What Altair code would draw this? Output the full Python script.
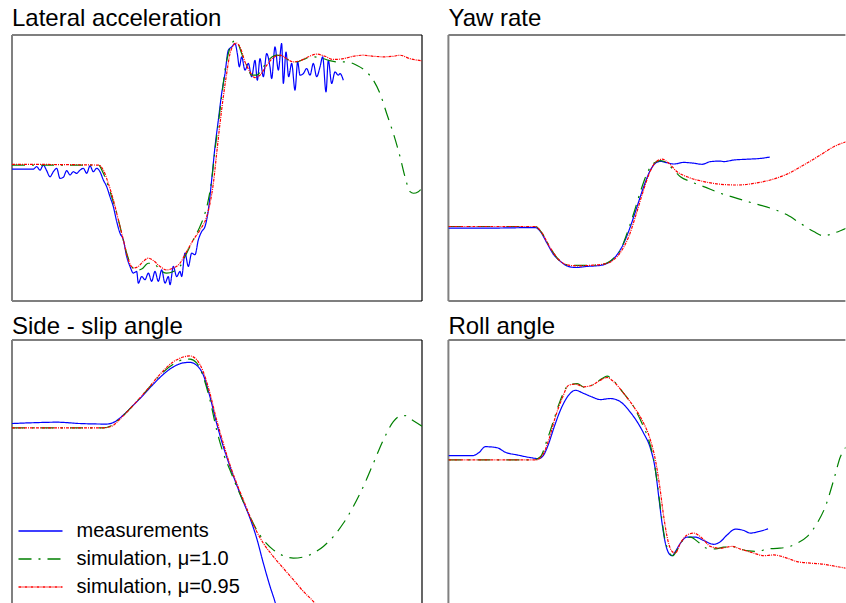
import altair as alt
import pandas as pd

SERIES = ["measurements", "simulation, μ=1.0", "simulation, μ=0.95"]
COLORS = ["#0000ff", "#008000", "#ff0000"]
DASHES = [[1, 0], [13, 7, 2, 7], [3, 1, 1, 1]]
TITLES = ["Lateral acceleration", "Yaw rate", "Side - slip angle", "Roll angle"]

# (time [s], normalised value) pairs
lat_meas = [(0.00,-0.04),(0.34,-0.04),(0.64,-0.04),(0.74,0.05),(0.84,-0.08),(0.94,0.11),(1.04,-0.10),
            (1.14,-0.33),(1.24,-0.14),(1.34,-0.01),(1.44,-0.39),(1.54,-0.35),(1.64,-0.10),(1.74,-0.26),
            (1.84,-0.14),(1.94,-0.20),(2.04,-0.08),(2.14,-0.01),(2.24,-0.20),(2.34,0.08),(2.44,-0.14),
            (2.54,-0.01),(2.64,-0.14),(2.74,-0.45),(2.84,-0.70),(2.94,-1.08),(3.04,-1.45),(3.14,-2.01),
            (3.24,-2.45),(3.34,-2.70),(3.44,-3.33),(3.54,-3.70),(3.64,-3.95),(3.74,-3.89),(3.79,-4.33),
            (3.89,-4.08),(3.99,-4.20),(4.09,-3.95),(4.19,-4.26),(4.29,-3.89),(4.39,-4.26),(4.49,-3.83),
            (4.59,-4.33),(4.69,-4.08),(4.74,-4.39),(4.84,-3.70),(4.94,-4.08),(5.04,-3.89),(5.09,-4.08),
            (5.19,-3.20),(5.29,-3.70),(5.39,-3.20),(5.49,-3.26),(5.59,-2.70),(5.69,-2.39),(5.79,-2.20),
            (5.89,-1.58),(5.99,-0.45),(6.09,0.80),(6.19,1.80),(6.29,2.80),(6.39,3.55),(6.49,4.43),
            (6.59,4.55),(6.69,4.68),(6.76,4.30),(6.82,3.80),(6.89,4.18),(6.99,3.68),(7.09,3.93),
            (7.19,3.43),(7.29,4.05),(7.36,3.30),(7.44,4.11),(7.54,3.43),(7.64,4.30),(7.74,3.80),
            (7.79,3.36),(7.89,4.55),(7.99,3.68),(8.09,4.68),(8.14,3.18),(8.22,4.36),(8.30,3.43),
            (8.39,3.93),(8.49,2.93),(8.57,3.99),(8.64,3.49),(8.74,3.55),(8.84,3.74),(8.94,3.49),
            (9.04,3.93),(9.14,3.43),(9.24,3.80),(9.32,4.18),(9.42,2.86),(9.49,4.05),(9.59,3.18),
            (9.69,3.61),(9.79,3.49),(9.84,3.55),(9.94,3.30)]
lat_sim10 = [(0.00,0.11),(2.59,0.11),(2.74,-0.20),(2.84,-0.51),(2.99,-1.08),(3.14,-1.70),(3.29,-2.45),
             (3.44,-3.20),(3.59,-3.70),(3.74,-3.85),(3.89,-3.80),(4.09,-3.58),(4.24,-3.58),(4.44,-3.83),
             (4.64,-3.95),(4.84,-3.89),(5.04,-3.70),(5.24,-3.20),(5.44,-2.70),(5.64,-2.20),(5.79,-1.70),
             (5.89,-1.20),(5.99,-0.45),(6.09,0.68),(6.19,1.68),(6.29,2.68),(6.39,3.68),(6.49,4.30),
             (6.59,4.68),(6.69,4.78),(6.79,4.65),(6.89,4.30),(7.04,3.86),(7.19,3.49),(7.34,3.49),
             (7.54,3.80),(7.74,4.11),(7.94,4.24),(8.14,4.18),(8.34,4.03),(8.54,3.99),(8.74,4.08),
             (8.99,4.18),(9.24,4.15),(9.49,4.05),(9.74,3.99),(10.04,3.99),(10.34,3.86),(10.64,3.61),
             (10.84,3.30),(11.04,2.80),(11.24,2.05),(11.44,1.30),(11.64,0.43),(11.79,-0.33),(11.94,-0.89),
             (12.04,-0.95),(12.19,-0.89),(12.30,-0.76)]
lat_sim095 = [(0.00,0.14),(2.59,0.11),(2.74,-0.08),(2.89,-0.58),(3.04,-1.20),(3.19,-1.95),(3.34,-2.70),
              (3.49,-3.45),(3.64,-3.76),(3.79,-3.70),(3.94,-3.51),(4.09,-3.39),(4.24,-3.48),(4.44,-3.70),
              (4.64,-3.83),(4.84,-3.76),(5.04,-3.58),(5.24,-3.14),(5.44,-2.70),(5.64,-2.33),(5.84,-1.83),
              (5.94,-1.33),(6.04,-0.58),(6.14,0.55),(6.24,1.68),(6.34,2.68),(6.44,3.55),(6.54,4.30),
              (6.64,4.61),(6.72,4.70),(6.84,4.55),(6.99,3.99),(7.14,3.61),(7.29,3.40),(7.44,3.49),
              (7.64,3.86),(7.84,4.15),(8.04,4.24),(8.24,4.11),(8.44,3.99),(8.64,4.03),(8.89,4.18),
              (9.14,4.28),(9.39,4.20),(9.64,4.08),(9.94,4.11),(10.24,4.20),(10.54,4.24),(10.84,4.20),
              (11.14,4.18),(11.44,4.20),(11.64,4.24),(11.94,4.11),(12.30,4.03)]

yaw_meas = [(0.00,-2.26),(1.16,-2.26),(2.61,-2.24),(2.76,-2.39),(2.96,-2.83),(3.16,-3.26),(3.36,-3.51),
            (3.56,-3.68),(3.81,-3.74),(4.16,-3.70),(4.56,-3.66),(4.86,-3.51),(5.06,-3.26),(5.26,-2.83),
            (5.46,-2.20),(5.66,-1.45),(5.86,-0.70),(6.06,-0.08),(6.21,0.18),(6.36,0.25),(6.56,0.20),
            (6.76,0.15),(7.06,0.21),(7.36,0.18),(7.61,0.14),(7.86,0.24),(8.16,0.26),(8.26,0.24),
            (8.56,0.30),(8.96,0.33),(9.36,0.36),(9.64,0.41)]
yaw_sim10 = [(0.00,-2.20),(2.61,-2.20),(2.81,-2.45),(3.06,-3.01),(3.31,-3.45),(3.56,-3.64),(3.86,-3.66),
             (4.26,-3.66),(4.66,-3.61),(4.96,-3.39),(5.16,-3.08),(5.36,-2.45),(5.56,-1.70),(5.76,-0.89),
             (5.96,-0.20),(6.16,0.18),(6.36,0.28),(6.56,0.18),(6.76,-0.08),(6.96,-0.33),(7.26,-0.51),
             (7.66,-0.70),(8.16,-0.95),(8.66,-1.14),(9.16,-1.33),(9.66,-1.51),(10.16,-1.76),(10.56,-2.08),
             (10.96,-2.39),(11.26,-2.55),(11.56,-2.45),(11.94,-2.26)]
yaw_sim095 = [(0.00,-2.20),(2.61,-2.20),(2.81,-2.45),(3.06,-3.01),(3.31,-3.45),(3.56,-3.64),(3.86,-3.68),
              (4.26,-3.66),(4.66,-3.61),(4.96,-3.45),(5.21,-3.08),(5.41,-2.58),(5.61,-1.83),(5.81,-1.01),
              (6.01,-0.26),(6.21,0.21),(6.41,0.33),(6.61,0.18),(6.86,-0.14),(7.16,-0.33),(7.66,-0.51),
              (8.16,-0.61),(8.66,-0.64),(9.16,-0.58),(9.66,-0.45),(10.16,-0.23),(10.66,0.11),(11.16,0.49),
              (11.56,0.80),(11.94,0.99)]

slip_meas = [(0.00,1.86),(0.64,1.89),(1.34,1.91),(2.04,1.86),(2.84,1.84),(3.09,1.93),(3.34,2.18),
             (3.64,2.55),(3.94,2.93),(4.24,3.34),(4.54,3.71),(4.84,3.99),(5.14,4.14),(5.34,4.16),
             (5.54,4.05),(5.74,3.68),(5.94,2.86),(6.14,1.86),(6.34,0.99),(6.54,0.24),(6.74,-0.45),
             (6.94,-1.08),(7.14,-1.70),(7.34,-2.45),(7.54,-3.39),(7.74,-4.26),(7.90,-4.89),(7.99,-5.34)]
slip_sim10 = [(0.00,1.70),(2.74,1.70),(2.94,1.76),(3.24,2.05),(3.64,2.55),(4.04,3.11),(4.44,3.68),
              (4.84,4.09),(5.14,4.26),(5.34,4.28),(5.54,4.14),(5.74,3.61),(5.94,2.74),(6.14,1.61),
              (6.34,0.74),(6.54,0.11),(6.74,-0.51),(6.94,-1.08),(7.14,-1.64),(7.34,-2.14),(7.54,-2.51),
              (7.84,-2.89),(8.14,-3.11),(8.44,-3.20),(8.74,-3.16),(9.04,-3.01),(9.34,-2.76),(9.64,-2.39),
              (9.94,-1.89),(10.24,-1.26),(10.54,-0.51),(10.84,0.36),(11.14,1.24),(11.44,1.93),
              (11.64,2.14),(11.79,2.16),(12.04,1.96),(12.30,1.76)]
slip_sim095 = [(0.00,1.70),(2.74,1.70),(2.99,1.76),(3.29,2.09),(3.64,2.55),(4.04,3.11),(4.44,3.71),
               (4.84,4.18),(5.14,4.36),(5.34,4.40),(5.54,4.26),(5.74,3.80),(5.94,2.99),(6.14,1.99),
               (6.34,1.11),(6.54,0.30),(6.74,-0.39),(6.94,-1.01),(7.14,-1.64),(7.34,-2.20),(7.54,-2.64),
               (7.84,-3.14),(8.14,-3.58),(8.44,-4.01),(8.74,-4.45),(9.04,-4.83),(9.24,-5.14)]

roll_meas = [(0.00,0.65),(0.71,0.65),(0.91,0.76),(1.11,0.99),(1.46,0.95),(1.71,0.78),(2.06,0.68),
             (2.46,0.58),(2.71,0.54),(2.86,0.68),(3.01,1.11),(3.16,1.68),(3.36,2.36),(3.61,2.93),
             (3.81,3.11),(4.06,2.99),(4.31,2.86),(4.56,2.76),(4.86,2.80),(5.16,2.68),(5.41,2.36),
             (5.66,1.93),(5.86,1.49),(6.06,0.93),(6.21,0.11),(6.31,-0.89),(6.41,-1.89),(6.51,-2.64),
             (6.61,-3.01),(6.71,-3.11),(6.81,-2.95),(6.96,-2.64),(7.16,-2.41),(7.41,-2.41),(7.66,-2.54),
             (7.96,-2.68),(8.16,-2.58),(8.36,-2.33),(8.61,-2.11),(8.86,-2.16),(9.06,-2.26),(9.31,-2.20),
             (9.59,-2.10)]
roll_sim10 = [(0.00,0.49),(2.56,0.49),(2.76,0.61),(2.96,1.24),(3.16,1.99),(3.36,2.74),(3.61,3.30),
              (3.86,3.36),(4.11,3.21),(4.36,3.34),(4.61,3.55),(4.76,3.64),(4.96,3.46),(5.26,2.99),
              (5.56,2.49),(5.81,1.86),(6.01,1.24),(6.16,0.49),(6.28,-0.51),(6.38,-1.51),(6.48,-2.39),
              (6.61,-2.95),(6.73,-3.11),(6.86,-2.89),(7.06,-2.49),(7.26,-2.41),(7.51,-2.61),(7.76,-2.83),
              (8.01,-2.85),(8.26,-2.79),(8.51,-2.76),(8.76,-2.86),(9.01,-2.93),(9.26,-2.95),(9.56,-2.86),
              (9.86,-2.83),(10.16,-2.79),(10.46,-2.64),(10.76,-2.39),(11.06,-1.89),(11.31,-1.26),
              (11.56,-0.26),(11.76,0.61),(11.94,0.99)]
roll_sim095 = [(0.00,0.49),(2.61,0.49),(2.81,0.64),(3.01,1.24),(3.21,2.11),(3.41,2.80),(3.61,3.30),
               (3.81,3.34),(4.06,3.24),(4.31,3.30),(4.56,3.49),(4.76,3.59),(4.96,3.43),(5.26,2.99),
               (5.56,2.49),(5.81,1.99),(6.06,1.24),(6.21,0.49),(6.34,-0.51),(6.46,-1.64),(6.58,-2.51),
               (6.71,-2.95),(6.81,-3.01),(6.96,-2.64),(7.16,-2.33),(7.36,-2.26),(7.61,-2.45),(7.86,-2.76),
               (8.16,-2.83),(8.51,-2.76),(8.76,-2.86),(9.16,-3.01),(9.46,-3.11),(9.76,-3.08),(10.06,-3.16),
               (10.46,-3.33),(10.86,-3.39),(11.26,-3.43),(11.61,-3.51),(11.94,-3.58)]

FONT = "Liberation Sans"
PX_PER_S = 410 / 12.3      # full panel: 12.3 s across 410 px
PX_PER_UNIT = 266 / 10.0   # full panel: 10 units across 266 px


def frame_axis(orient, color="black", width=1.2):
    return alt.Axis(orient=orient, domain=True, domainColor=color, domainWidth=width,
                    labels=False, ticks=False, grid=False, title=None, translate=0)


def panel(title, meas, sim10, sim095, title_offset, width, height,
          right_border, bottom_border, show_legend=False):
    rows = []
    for name, pts in zip(SERIES, [meas, sim10, sim095]):
        for t, v in pts:
            rows.append({"time": t, "value": v, "series": name})
    df = pd.DataFrame(rows)
    xscale = alt.Scale(domain=[0, width / PX_PER_S], nice=False, zero=False)
    yscale = alt.Scale(domain=[5 - height / PX_PER_UNIT, 5], nice=False, zero=False)
    if show_legend:
        legend = alt.Legend(
            title=None, orient="none", legendX=5.5, legendY=177.5,
            symbolType="stroke", symbolSize=1936, symbolStrokeWidth=1.5,
            clipHeight=27, rowPadding=1, padding=0,
            labelFont=FONT, labelFontSize=20, labelColor="black",
            labelOffset=13, labelLimit=400,
        )
    else:
        legend = None
    base = alt.Chart(df)
    lines = base.mark_line(clip=True, strokeWidth=1.2, interpolate="monotone").encode(
        x=alt.X("time:Q", scale=xscale, axis=frame_axis("top")),
        y=alt.Y("value:Q", scale=yscale, axis=frame_axis("left", "#808080", 2)),
        color=alt.Color("series:N", scale=alt.Scale(domain=SERIES, range=COLORS), legend=legend),
        strokeDash=alt.StrokeDash("series:N", scale=alt.Scale(domain=SERIES, range=DASHES), legend=legend),
    )
    layers = [lines]
    if right_border or bottom_border:
        frame = base.mark_line(clip=True, opacity=0).encode(
            x=alt.X("time:Q", scale=xscale, axis=frame_axis("bottom") if bottom_border else None),
            y=alt.Y("value:Q", scale=yscale, axis=frame_axis("right") if right_border else None),
            detail="series:N",
        )
        layers.append(frame)
    return (
        alt.layer(*layers, title=alt.TitleParams(
            text=title, anchor="start", font=FONT, fontSize=24,
            fontWeight="normal", color="black", offset=title_offset))
        .resolve_axis(x="independent", y="independent")
        .properties(width=width, height=height)
    )


W_LEFT, W_RIGHT = 410, 397
H_TOP, H_BOTTOM = 266, 263

tl = panel(TITLES[0], lat_meas, lat_sim10, lat_sim095, 4, W_LEFT, H_TOP, True, True)
tr = panel(TITLES[1], yaw_meas, yaw_sim10, yaw_sim095, 4, W_RIGHT, H_TOP, False, True)
bl = panel(TITLES[2], slip_meas, slip_sim10, slip_sim095, 1, W_LEFT, H_BOTTOM, True, False,
           show_legend=True)
br = panel(TITLES[3], roll_meas, roll_sim10, roll_sim095, 1, W_RIGHT, H_BOTTOM, False, False)

chart = (
    alt.concat(tl, tr, bl, br, columns=2, spacing={"row": 12, "column": 24.4}, align="each")
    .resolve_scale(color="independent", strokeDash="independent")
    .resolve_legend(color="independent", strokeDash="independent")
    .configure(padding={"left": 11, "top": 6, "right": 0, "bottom": 0}, background="white")
    .configure_view(stroke="transparent")
)

chart.save("out.html", embed_options={"renderer": "svg", "actions": False})
